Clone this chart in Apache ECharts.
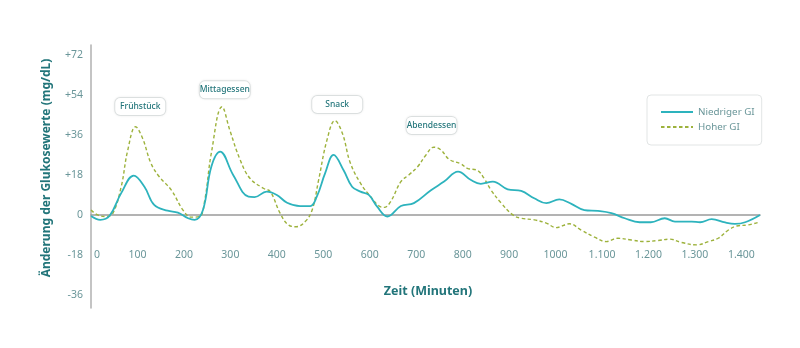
<!DOCTYPE html>
<html>
<head>
<meta charset="utf-8">
<script src="https://cdn.jsdelivr.net/npm/echarts@6/dist/echarts.min.js"></script>
<style>
  html, body { margin: 0; padding: 0; background: #fff; }
  #chart { width: 800px; height: 348px; }
</style>
</head>
<body>
<div id="chart"></div>
<script>
// Glucose change after meals over 24 hours (minutes since start of day)
const lowGiTime = [0, 20, 40, 65, 92, 115, 136, 165, 187, 209, 223, 241, 259, 278, 306, 339, 352, 378, 400, 422, 450, 472, 486, 504, 522, 544, 562, 580, 598, 616, 638, 667, 695, 731, 760, 790, 818, 839, 865, 897, 926, 954, 980, 1008, 1034, 1062, 1091, 1120, 1149, 1181, 1205, 1235, 1257, 1293, 1311, 1336, 1365, 1386, 1408, 1440];
const lowGiValues = [-0.5, -2.2, -0.4, 9.8, 17.7, 12.7, 4.5, 1.9, 1.0, -1.5, -2.2, 2.2, 21.7, 28.5, 18, 8.2, 8.0, 10.5, 9, 5.5, 4, 4, 8.2, 18.8, 27, 20, 12.7, 10.5, 9, 3.7, -0.7, 4, 5.3, 11, 15, 19.5, 15.7, 14, 15, 11.5, 10.8, 7.5, 5.3, 7, 5, 2.2, 1.8, 0.8, -1.5, -3.3, -3.3, -1.5, -3, -3, -3.3, -1.9, -3.4, -4, -3.3, 0];

const highGiTime = [0, 14, 32, 47, 65, 79, 96, 111, 129, 147, 173, 198, 216, 234, 245, 259, 282, 299, 321, 342, 371, 386, 407, 425, 442, 461, 476, 490, 508, 525, 541, 558, 580, 602, 620, 631, 645, 667, 684, 703, 721, 738, 753, 771, 796, 810, 832, 846, 861, 883, 908, 926, 954, 980, 1001, 1030, 1055, 1084, 1109, 1134, 1163, 1192, 1221, 1246, 1271, 1304, 1329, 1350, 1372, 1390, 1415, 1437];
const highGiValues = [2.2, 0, -0.7, 0.7, 12.7, 29, 39.7, 34.5, 23.3, 17.2, 11.2, 2.2, -1, -0.7, 6.8, 27.8, 48.7, 38, 24.8, 16.5, 12, 10.5, 0.8, -4.5, -5.3, -3, 2.2, 15.8, 33.8, 42.4, 36.8, 23.5, 14.3, 8.2, 4, 3.4, 6, 15, 18, 21.7, 27, 30.5, 29.3, 25, 23, 21, 20, 16.5, 11.2, 5.3, 0, -1.5, -2.2, -3.7, -5.7, -4, -6.8, -10, -12, -10.5, -11.3, -12, -11.5, -10.9, -12.4, -13.5, -12, -10.5, -6.8, -5, -4.5, -3.3];

// Meal labels and where their boxes sit (minutes, mg/dL)
const mealNames = ['Frühstück', 'Mittagessen', 'Snack', 'Abendessen'];
const mealTimes = [106, 288, 530, 733];
const mealLevels = [48.8, 56.3, 49.7, 40.3];

// Axis tick values and labels
const xTicks = [0, 100, 200, 300, 400, 500, 600, 700, 800, 900, 1000, 1100, 1200, 1300, 1400];
const xTickLabels = ['0', '100', '200', '300', '400', '500', '600', '700', '800', '900', '1000', '1.100', '1.200', '1.300', '1.400'];
const yTicks = [-36, -18, 0, 18, 36, 54, 72];
const yTickLabels = ['-36', '-18', '0', '+18', '+36', '+54', '+72'];

const seriesNames = ['Niedriger GI', 'Hoher GI'];

const TEAL = '#2db3bd';
const OLIVE = '#9db23c';
const TITLE = '#22757a';
const LABEL = '#6a9699';
const FONT = '"Noto Sans", Roboto, sans-serif';

const pairs = (xs, ys) => xs.map((x, i) => [x, ys[i]]);

const chart = echarts.init(document.getElementById('chart'), null, { renderer: 'canvas' });

chart.setOption({
  animation: false,
  backgroundColor: '#ffffff',
  grid: { left: 91, right: 40, top: 45, bottom: 40, containLabel: false },
  xAxis: {
    type: 'value',
    min: 0,
    max: 1440,
    axisLine: { show: true, onZero: true, lineStyle: { color: '#9a9a9a', width: 1.5 } },
    axisTick: { show: false },
    splitLine: { show: false },
    axisLabel: {
      customValues: xTicks,
      margin: -58,
      color: LABEL,
      fontFamily: FONT,
      fontSize: 10.5,
      alignMinLabel: 'left',
      // keep the first label clear of the vertical axis line
      formatter: v => v === 0 ? '{first|' + xTickLabels[0] + '}' : xTickLabels[xTicks.indexOf(v)],
      rich: {
        first: { color: LABEL, fontFamily: FONT, fontSize: 10.5, padding: [0, 0, 0, 3] }
      }
    }
  },
  yAxis: {
    type: 'value',
    min: -41.9,
    max: 76.5,
    axisLine: { show: true, onZero: false, lineStyle: { color: '#b0b0b0', width: 1.5 } },
    axisTick: { show: false },
    splitLine: { show: false },
    axisLabel: {
      customValues: yTicks,
      margin: 8,
      color: LABEL,
      fontFamily: FONT,
      fontSize: 10.5,
      formatter: v => yTickLabels[yTicks.indexOf(v)]
    }
  },
  legend: {
    orient: 'vertical',
    left: 647,
    top: 95,
    padding: [12, 7, 13, 13],
    itemWidth: 32,
    itemHeight: 10,
    itemGap: 5,
    borderColor: '#e2e5e5',
    borderWidth: 1,
    borderRadius: 4,
    backgroundColor: '#fff',
    itemStyle: { opacity: 0 },
    textStyle: { color: LABEL, fontFamily: FONT, fontSize: 9.8 },
    data: seriesNames
  },
  series: [
    {
      name: seriesNames[0],
      type: 'line',
      data: pairs(lowGiTime, lowGiValues),
      smooth: 0.4,
      symbol: 'none',
      lineStyle: { color: TEAL, width: 1.8 },
      itemStyle: { color: TEAL },
      z: 3,
      markPoint: {
        symbol: 'rect',
        symbolSize: 0,
        silent: true,
        label: {
          show: true,
          position: 'inside',
          formatter: p => p.name,
          color: TITLE,
          fontFamily: FONT,
          fontSize: 8.5,
          fontWeight: 500,
          backgroundColor: '#ffffff',
          borderColor: '#e0e4e4',
          borderWidth: 1,
          borderRadius: 5,
          width: 40,
          align: 'center',
          padding: [4, 5, 4, 5],
          shadowColor: 'rgba(0,0,0,0.06)',
          shadowBlur: 3
        },
        data: mealNames.map((n, i) => ({ name: n, coord: [mealTimes[i], mealLevels[i]] }))
      }
    },
    {
      name: seriesNames[1],
      type: 'line',
      data: pairs(highGiTime, highGiValues),
      smooth: 0.4,
      symbol: 'none',
      lineStyle: { color: OLIVE, width: 1.4, type: [3.5, 2.5] },
      itemStyle: { color: OLIVE },
      z: 2
    }
  ],
  graphic: [
    {
      type: 'text',
      x: 428,
      y: 291,
      style: {
        text: 'Zeit (Minuten)',
        textAlign: 'center',
        textVerticalAlign: 'middle',
        fill: TITLE,
        font: 'bold 12.5px "Noto Sans", Roboto, sans-serif'
      }
    },
    {
      type: 'text',
      x: 47,
      y: 168,
      rotation: Math.PI / 2,
      style: {
        text: 'Änderung der Glukosewerte (mg/dL)',
        textAlign: 'center',
        textVerticalAlign: 'middle',
        fill: TITLE,
        font: 'bold 12px "Noto Sans", Roboto, sans-serif'
      }
    }
  ]
});
</script>
</body>
</html>
